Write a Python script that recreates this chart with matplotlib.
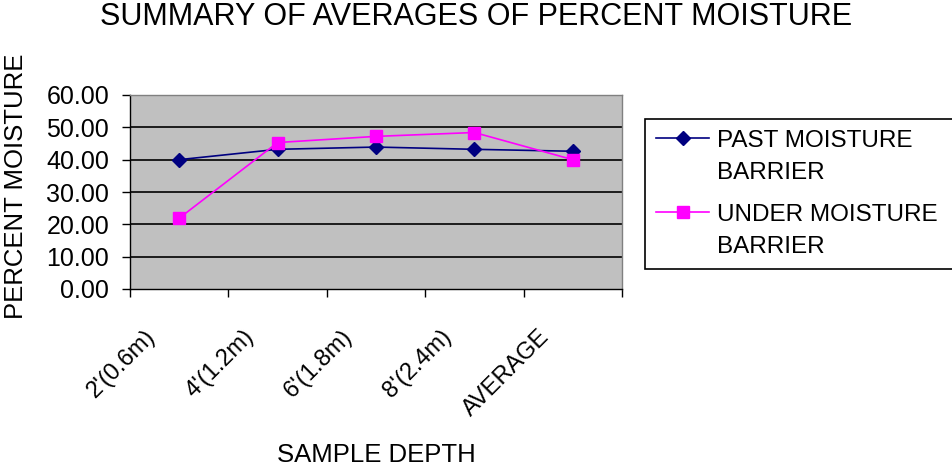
import numpy as np
import matplotlib
matplotlib.use("Agg")
import matplotlib.pyplot as plt
from matplotlib.transforms import ScaledTranslation

plt.rcParams["font.family"] = ["Liberation Sans", "DejaVu Sans"]

# data
depths = ["2'(0.6m)", "4'(1.2m)", "6'(1.8m)", "8'(2.4m)", "AVERAGE"]
past_barrier = [40.0, 43.2, 43.9, 43.2, 42.6]
under_barrier = [21.9, 45.3, 47.2, 48.4, 40.0]
y_ticks = [0, 10, 20, 30, 40, 50, 60]

fig = plt.figure(figsize=(9.53, 4.69), dpi=100)
ax = fig.add_axes([130 / 953, 1 - 289 / 469, 492 / 953, 194 / 469])
ax.set_facecolor("#C0C0C0")

x = np.arange(len(depths))
ax.plot(x, past_barrier, color="#000080", marker="D", markersize=7,
        lw=1.2, label="PAST MOISTURE\nBARRIER", zorder=3)
ax.plot(x, under_barrier, color="#FF00FF", marker="s", markersize=8,
        lw=1.2, label="UNDER MOISTURE  \nBARRIER", zorder=3)

ax.set_xlim(-0.5, len(depths) - 0.5)
ax.set_ylim(0, 60)
ax.set_yticks(y_ticks)
ax.set_yticklabels([f"{v:.2f}" for v in y_ticks], fontsize=18)
for v in y_ticks[1:-1]:
    ax.axhline(v, color="black", lw=1.2, zorder=1)

# ticks between categories, labels at category centres
ax.set_xticks(np.arange(-0.5, len(depths), 1.0))
ax.set_xticklabels([])
ax.set_xticks(x, minor=True)
ax.set_xticklabels(depths, minor=True, rotation=45, ha="right", va="top",
                   fontsize=17)
ax.tick_params(axis="x", which="minor", length=0, pad=26)
ax.tick_params(axis="x", which="major", length=6, width=1, direction="out")
ax.tick_params(axis="y", length=6, width=1, direction="out", pad=9)
shift = ScaledTranslation(-19 / 100, 0, fig.dpi_scale_trans)
for lab in ax.get_xticklabels(minor=True):
    lab.set_transform(lab.get_transform() + shift)

for s in ["top", "right"]:
    ax.spines[s].set_color("#808080")
    ax.spines[s].set_linewidth(1)
for s in ["left", "bottom"]:
    ax.spines[s].set_color("black")
    ax.spines[s].set_linewidth(1)

fig.text(0.5, 1 - 17 / 469, "SUMMARY OF AVERAGES OF PERCENT MOISTURE",
         ha="center", va="center", fontsize=22)
fig.text(16 / 953, 1 - 186 / 469, "PERCENT MOISTURE", rotation=90,
         ha="center", va="center", fontsize=18.5)
fig.text(376 / 953, 1 - 455 / 469, "SAMPLE DEPTH", ha="center",
         va="center", fontsize=18.5)

leg = fig.legend(loc="upper left", bbox_to_anchor=(645 / 953, 1 - 119 / 469),
                 fontsize=17.5, frameon=True, fancybox=False, framealpha=1,
                 edgecolor="black", handlelength=2.2, handletextpad=0.3,
                 borderpad=0.45, labelspacing=0.8, borderaxespad=0)
leg.get_frame().set_linewidth(1.2)
for t in leg.get_texts():
    t.set_linespacing(1.62)
for col in leg._legend_handle_box.get_children():
    for row in col.get_children():
        row.align = "top"

fig.savefig("out.png", dpi=100)
